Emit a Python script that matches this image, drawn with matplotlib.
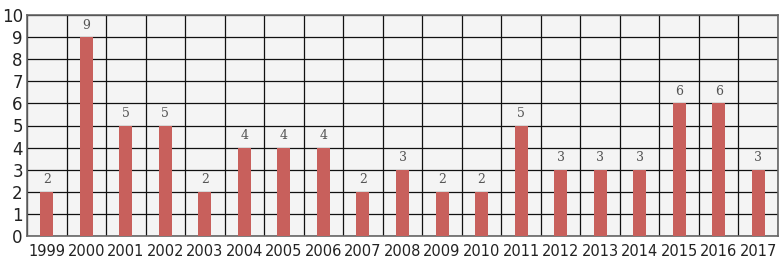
import numpy as np
import matplotlib.pyplot as plt

years = ["1999", "2000", "2001", "2002", "2003", "2004", "2005", "2006", "2007", "2008",
         "2009", "2010", "2011", "2012", "2013", "2014", "2015", "2016", "2017"]
counts = [2, 9, 5, 5, 2, 4, 4, 4, 2, 3, 2, 2, 5, 3, 3, 3, 6, 6, 3]

bar_color = "#c8605c"
grid_color = "#111111"
label_color = "#555555"

fig = plt.figure(figsize=(7.83, 2.67), dpi=100)
ax = fig.add_axes([27/783, 1-236/267, 751/783, 221/267])
ax.set_facecolor("#f4f4f4")

x = np.arange(len(years))
ax.bar(x, counts, width=0.33, color=bar_color, zorder=3)
for xi, c in zip(x, counts):
    ax.text(xi, c + 0.25, str(c), ha="center", va="bottom", fontsize=9,
            color=label_color, family="DejaVu Serif", zorder=4)

ax.set_xlim(-0.5, len(years) - 0.5)
ax.set_ylim(0, 10)
ax.set_yticks(range(0, 11))
ax.set_xticks(x)
ax.set_xticklabels(years)
ax.set_xticks(np.arange(-0.5, len(years), 1), minor=True)
ax.grid(axis="y", which="major", color=grid_color, lw=0.9, zorder=1)
ax.grid(axis="x", which="minor", color=grid_color, lw=0.9, zorder=1)
ax.tick_params(axis="x", which="both", length=0, labelsize=10.5, colors="#222222", pad=6)
ax.tick_params(axis="y", length=0, labelsize=12, colors="#222222", pad=3)
for s in ["left", "top", "right", "bottom"]:
    ax.spines[s].set_color("#666666")
    ax.spines[s].set_linewidth(1.2)

fig.savefig("out.png", dpi=100)
